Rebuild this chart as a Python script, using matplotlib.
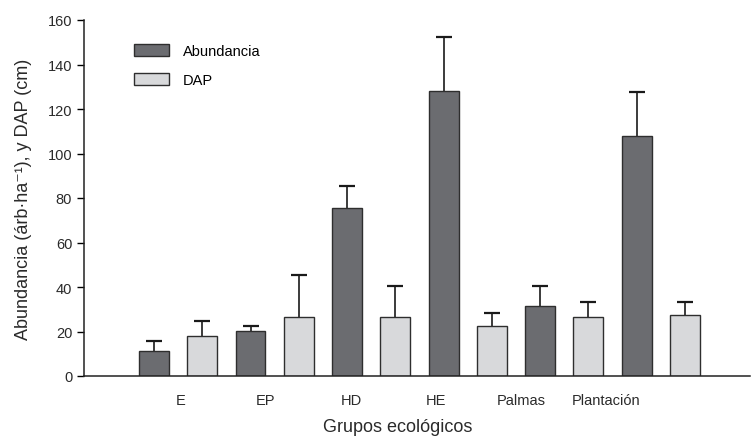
import numpy as np
import matplotlib
matplotlib.use('Agg')
import matplotlib.pyplot as plt

# group labels along the x axis
grupos = ["E", "EP", "HD", "HE", "Palmas", "Plantación"]

# abundance (trees/ha) and DBH (cm) means with upper error
abundancia = [11.4, 20.2, 75.5, 128.0, 31.3, 108.0]
abundancia_err = [4.2, 2.1, 9.9, 24.5, 9.0, 19.6]
dap = [17.8, 26.5, 26.5, 22.3, 26.5, 27.6]
dap_err = [6.9, 18.9, 13.8, 5.9, 6.9, 5.8]

plt.rcParams['font.family'] = ['Liberation Sans', 'DejaVu Sans']

fig = plt.figure(figsize=(7.52, 4.39), dpi=100)
ax = fig.add_axes([84 / 752, 1 - 377 / 439, 666 / 752, 356 / 439])

n = len(grupos)
x_ab = np.arange(n) * 2
x_dap = x_ab + 1
width = 0.62

ax.bar(x_ab, abundancia, width, color='#6b6c70', edgecolor='#2e2e2e',
       linewidth=1.0, label='Abundancia', zorder=2)
ax.bar(x_dap, dap, width, color='#d8d9db', edgecolor='#2e2e2e',
       linewidth=1.0, label='DAP', zorder=2)

# upper error bars only; drop the cap at the bar top
for xs, ys, errs in [(x_ab, abundancia, abundancia_err), (x_dap, dap, dap_err)]:
    eb = ax.errorbar(xs, ys, yerr=[np.zeros(n), errs], fmt='none',
                     ecolor='#1a1a1a', elinewidth=1.2, capsize=6, capthick=1.6,
                     zorder=1)
    eb.lines[1][0].set_visible(False)

ax.set_xlim(-1.45, 12.35)
ax.set_ylim(0, 160)
ax.set_yticks(np.arange(0, 161, 20))

# group labels are evenly spread across the bars
ax.set_xticks(0.56 + 1.76 * np.arange(n))
ax.set_xticklabels(grupos, fontsize=10.5, color='#2a2a2a')
ax.tick_params(axis='x', length=0, pad=12)
ax.tick_params(axis='y', length=5, width=1, labelsize=10.5, labelcolor='#2a2a2a')

for s in ['top', 'right']:
    ax.spines[s].set_visible(False)
for s in ['left', 'bottom']:
    ax.spines[s].set_linewidth(1.1)
    ax.spines[s].set_color('#222222')

ax.set_ylabel('Abundancia (árb·ha⁻¹), y DAP (cm)', fontsize=13, color='#2a2a2a')
ax.yaxis.set_label_coords(-0.078, 0.5)
ax.set_xlabel('Grupos ecológicos', fontsize=13, color='#2a2a2a')
ax.xaxis.set_label_coords(0.471, -0.118)

ax.legend(loc='upper left', bbox_to_anchor=(0.055, 0.97), frameon=False,
          fontsize=10.5, handlelength=2.45, handleheight=0.9,
          labelspacing=1.05, handletextpad=0.9)

fig.savefig('out.png', dpi=100)
